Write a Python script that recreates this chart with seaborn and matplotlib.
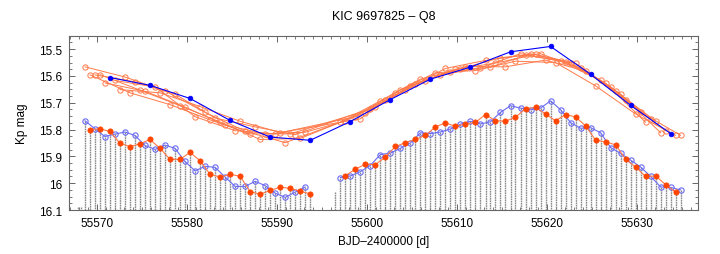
import numpy as np
import pandas as pd
import matplotlib
matplotlib.use('Agg')
import matplotlib.pyplot as plt
from matplotlib.ticker import MultipleLocator, FuncFormatter
import seaborn as sns

# Pulsation-cycle times (BJD-2400000), first and second data segment
bjd_seg1 = [55568.63, 55569.19, 55569.74, 55570.30, 55570.85, 55571.41, 55571.97, 55572.52, 55573.08, 55573.64,
            55574.19, 55574.75, 55575.30, 55575.86, 55576.42, 55576.97, 55577.53, 55578.09, 55578.64, 55579.20,
            55579.75, 55580.31, 55580.87, 55581.42, 55581.98, 55582.54, 55583.09, 55583.65, 55584.20, 55584.76,
            55585.32, 55585.87, 55586.43, 55586.98, 55587.54, 55588.10, 55588.65, 55589.21, 55589.77, 55590.32,
            55590.88, 55591.43, 55591.99, 55592.55, 55593.10, 55593.66]
bjd_seg2 = [55597.00, 55597.55, 55598.11, 55598.66, 55599.22, 55599.78, 55600.33, 55600.89, 55601.45, 55602.00,
            55602.56, 55603.11, 55603.67, 55604.23, 55604.78, 55605.34, 55605.90, 55606.45, 55607.01, 55607.56,
            55608.12, 55608.68, 55609.23, 55609.79, 55610.35, 55610.90, 55611.46, 55612.01, 55612.57, 55613.13,
            55613.68, 55614.24, 55614.79, 55615.35, 55615.91, 55616.46, 55617.02, 55617.58, 55618.13, 55618.69,
            55619.24, 55619.80, 55620.36, 55620.91, 55621.47, 55622.03, 55622.58, 55623.14, 55623.69, 55624.25,
            55624.81, 55625.36, 55625.92, 55626.47, 55627.03, 55627.59, 55628.14, 55628.70, 55629.26, 55629.81,
            55630.37, 55630.92, 55631.48, 55632.04, 55632.59, 55633.15, 55633.71, 55634.26, 55634.82]
first_cycle = [0, 51]

# upper quantity per cycle (Kp mag)
upper_seg1 = [15.566, 15.596, 15.596, 15.595, 15.626, 15.606, 15.617, 15.651, 15.604, 15.663,
              15.622, 15.653, 15.657, 15.635, 15.641, 15.663, 15.656, 15.707, 15.668, 15.711,
              15.716, 15.684, 15.752, 15.714, 15.736, 15.764, 15.757, 15.772, 15.783, 15.766,
              15.804, 15.769, 15.806, 15.816, 15.790, 15.837, 15.816, 15.828, 15.816, 15.811,
              15.849, 15.816, 15.819, 15.833, 15.810, 15.840]
upper_seg2 = [15.773, 15.768, 15.770, 15.752, 15.760, 15.738, 15.725, 15.715, 15.693, 15.690,
              15.688, 15.662, 15.651, 15.652, 15.637, 15.630, 15.612, 15.618, 15.612, 15.588,
              15.597, 15.572, 15.585, 15.575, 15.573, 15.565, 15.567, 15.580, 15.569, 15.542,
              15.567, 15.552, 15.532, 15.566, 15.510, 15.545, 15.517, 15.522, 15.517, 15.520,
              15.517, 15.541, 15.490, 15.550, 15.545, 15.548, 15.552, 15.553, 15.572, 15.582,
              15.594, 15.637, 15.616, 15.627, 15.640, 15.656, 15.668, 15.690, 15.710, 15.742,
              15.735, 15.773, 15.760, 15.769, 15.812, 15.805, 15.815, 15.822, 15.822]

# maximum brightness per cycle (Kp mag)
lower_seg1 = [15.767, 15.800, 15.797, 15.797, 15.826, 15.807, 15.817, 15.851, 15.809, 15.864,
              15.822, 15.853, 15.859, 15.837, 15.874, 15.870, 15.858, 15.911, 15.870, 15.911,
              15.919, 15.885, 15.954, 15.916, 15.937, 15.967, 15.941, 15.977, 15.977, 15.967,
              16.012, 15.974, 16.012, 16.031, 15.993, 16.041, 16.009, 16.027, 16.037, 16.015,
              16.053, 16.019, 16.033, 16.030, 16.014, 16.040]
lower_seg2 = [15.979, 15.972, 15.973, 15.948, 15.957, 15.929, 15.934, 15.931, 15.893, 15.903,
              15.888, 15.863, 15.870, 15.849, 15.850, 15.837, 15.812, 15.822, 15.815, 15.790,
              15.809, 15.775, 15.798, 15.788, 15.780, 15.779, 15.769, 15.773, 15.779, 15.744,
              15.771, 15.767, 15.736, 15.769, 15.711, 15.754, 15.720, 15.722, 15.726, 15.717,
              15.720, 15.742, 15.693, 15.767, 15.726, 15.744, 15.774, 15.753, 15.795, 15.786,
              15.793, 15.840, 15.812, 15.846, 15.867, 15.857, 15.889, 15.911, 15.914, 15.940,
              15.940, 15.975, 15.975, 15.973, 16.014, 16.006, 16.016, 16.034, 16.025]

# stray light-curve bits without a marked maximum
extra_bjd = [55567.90, 55568.20, 55596.44]
extra_max = [16.088, 16.090, 16.032]

rows = []
for seg, (t, up, lo) in enumerate([(bjd_seg1, upper_seg1, lower_seg1), (bjd_seg2, upper_seg2, lower_seg2)]):
    for i in range(len(t)):
        rows.append({'t': t[i], 'upper': up[i], 'lower': lo[i], 'seg': seg,
                     'cycle': first_cycle[seg] + i, 'parity': i % 2})
df = pd.DataFrame(rows)
df['group'] = df['cycle'] % 8

sns.set_style('ticks')
plt.rcParams['font.family'] = ['Liberation Sans', 'DejaVu Sans']
plt.rcParams['font.size'] = 8.5
plt.rcParams['text.color'] = 'black'
plt.rcParams['axes.labelcolor'] = 'black'
plt.rcParams['xtick.labelcolor'] = 'black'
plt.rcParams['ytick.labelcolor'] = 'black'

fig = plt.figure(figsize=(7.2, 2.55), dpi=100)
ax = fig.add_axes([0.0958, 0.1725, 0.8732, 0.6835])

blue = '#0000ff'
lblue = '#6b6bf2'
orange = '#ff4500'
lorange = '#ff7a4a'
grey = '#8a8a8a'

# light curve: every cycle drawn as a dotted column
ax.vlines(df['t'], df['lower'], 16.3, colors=grey, linestyles=(0, (1.2, 0.5)), lw=1.0, zorder=1)
ax.vlines(extra_bjd, extra_max, 16.3, colors=grey, linestyles=(0, (1.2, 0.5)), lw=1.0, zorder=1)

# maxima, alternating cycles
lb = df[df['parity'] == 0]
lo = df[df['parity'] == 1]
sns.lineplot(data=lb, x='t', y='lower', units='seg', estimator=None, color=lblue, lw=0.8,
             marker='o', markersize=3.8, markerfacecolor='none', markeredgecolor=lblue,
             markeredgewidth=0.8, ax=ax, zorder=3)
sns.lineplot(data=lo, x='t', y='lower', units='seg', estimator=None, color=lorange, lw=0.8,
             marker='o', markersize=3.8, markerfacecolor=orange, markeredgecolor=orange,
             markeredgewidth=0.5, ax=ax, zorder=3)

# upper quantity, sampled every 8th cycle
uo = df[df['group'] != 5]
ub = df[df['group'] == 5]
sns.lineplot(data=uo, x='t', y='upper', units='group', estimator=None, color=lorange, lw=0.7,
             marker='o', markersize=3.8, markerfacecolor='none', markeredgecolor=lorange,
             markeredgewidth=0.7, ax=ax, zorder=3)
sns.lineplot(data=ub, x='t', y='upper', estimator=None, color=blue, lw=0.8,
             marker='o', markersize=3.4, markerfacecolor=blue, markeredgecolor=blue,
             markeredgewidth=0.5, ax=ax, zorder=4)

ax.set_xlim(55566.86, 55636.7)
ax.set_ylim(16.1, 15.45)
ax.xaxis.set_major_locator(MultipleLocator(10))
ax.xaxis.set_minor_locator(MultipleLocator(1))
ax.yaxis.set_major_locator(MultipleLocator(0.1))
ax.yaxis.set_minor_locator(MultipleLocator(0.025))
ax.yaxis.set_major_formatter(FuncFormatter(lambda v, p: f'{v:g}'))
ax.tick_params(which='both', direction='in', top=True, right=True, color='#666666', labelsize=8.5)
ax.tick_params(which='major', length=4, width=0.7, pad=5)
ax.tick_params(which='minor', length=2, width=0.6)
for s in ax.spines.values():
    s.set_color('#666666')
    s.set_linewidth(0.8)

ax.set_xlabel('BJD\u20132400000 [d]', fontsize=8.5, labelpad=4)
ax.set_ylabel('Kp mag', fontsize=8.5, labelpad=8)
ax.set_title('KIC 9697825 \u2013 Q8', fontsize=9, pad=12)

fig.savefig('out.png', dpi=100)
